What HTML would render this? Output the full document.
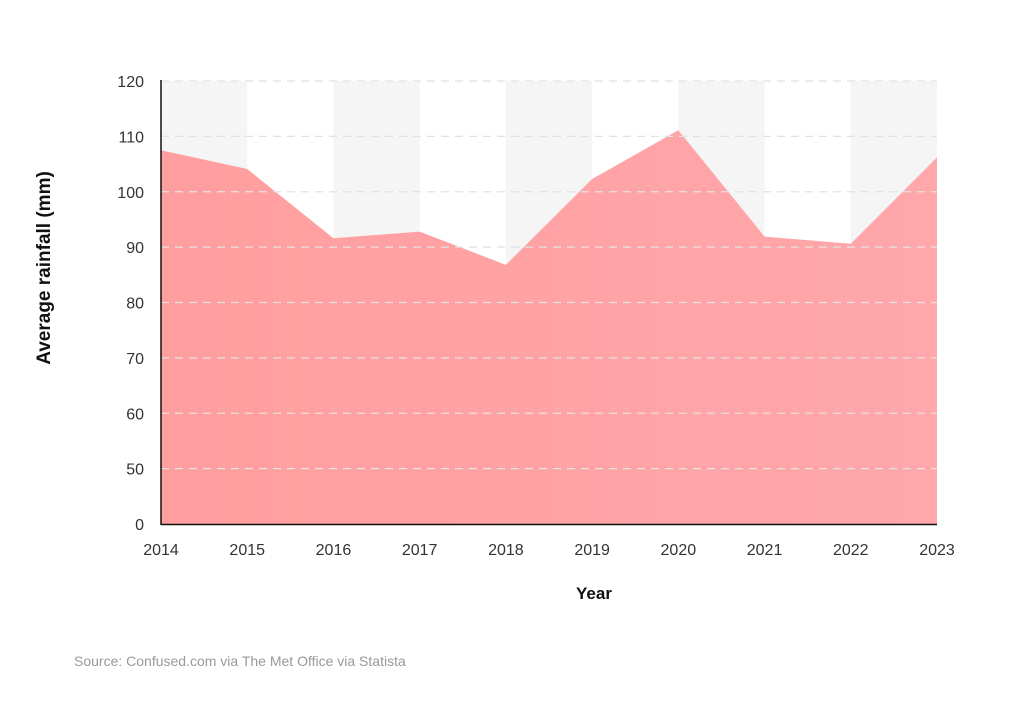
<!DOCTYPE html>
<html><head><meta charset="utf-8"><style>
body{margin:0;background:#fff;width:1016px;height:721px;overflow:hidden;font-family:"Liberation Sans",sans-serif}
</style></head><body>
<svg id="chart" width="1016" height="721" xmlns="http://www.w3.org/2000/svg">
<defs><linearGradient id="fillg" x1="0" x2="1" y1="0" y2="0"><stop offset="0" stop-color="#ff9e9f"/><stop offset="1" stop-color="#ffa7ab"/></linearGradient></defs>
<g id="bands"></g>
<path id="area" fill="url(#fillg)"/>
<g id="grid"></g>
<line x1="161" y1="80" x2="161" y2="525" stroke="#111" stroke-width="1.5"/>
<line x1="161" y1="524.5" x2="937" y2="524.5" stroke="#111" stroke-width="1.5"/>
<g id="yticks" font-size="16" fill="#333" text-anchor="end"></g>
<g id="xticks" font-size="16" fill="#333" text-anchor="middle"></g>
<text transform="translate(50,268) rotate(-90)" text-anchor="middle" font-size="19" font-weight="bold" fill="#111">Average rainfall (mm)</text>
<text x="594" y="599" text-anchor="middle" font-size="17" font-weight="bold" fill="#111">Year</text>
<text x="74" y="666" font-size="14" fill="#999">Source: Confused.com via The Met Office via Statista</text>
</svg>
<script>
const years = [2014,2015,2016,2017,2018,2019,2020,2021,2022,2023];
const rainfall = [107.5,104.1,91.6,92.8,86.8,102.3,111.1,91.9,90.6,106.2];
const yTicks = [0,50,60,70,80,90,100,110,120];
const NS='http://www.w3.org/2000/svg';
const x0=161,x1=937,yBase=524,yTop=81;
function xs(i){return x0+i*(x1-x0)/(years.length-1);}
function ys(v){ if(v<=0) return yBase; return yBase-(v-40)*(yBase-yTop)/80; }
function mk(t,a,p){const e=document.createElementNS(NS,t);for(const k in a)e.setAttribute(k,a[k]);p.appendChild(e);return e;}
const bands=document.getElementById('bands');
for(let i=0;i<years.length-1;i+=2){
  const r=mk('rect',{x:xs(i),y:yTop,width:xs(i+1)-xs(i),height:yBase-yTop,fill:'#f5f5f5'},bands);
  
  
}
let d='M'+xs(0)+','+yBase;
rainfall.forEach((v,i)=>{d+=' L'+xs(i)+','+ys(v);});
d+=' L'+xs(years.length-1)+','+yBase+' Z';
document.getElementById('area').setAttribute('d',d);
const grid=document.getElementById('grid'),yt=document.getElementById('yticks'),xt=document.getElementById('xticks');
yTicks.forEach(v=>{
  const y=ys(v);
  if(v>0){const l=mk('line',{x1:x0,x2:x1,y1:y,y2:y,stroke:'#e2e2e2','stroke-width':1.2,'stroke-dasharray':'8 6'},grid);
  
  }
  const t=mk('text',{x:144,y:y+6},yt);t.textContent=v;
  
  
});
years.forEach((yr,i)=>{
  const t=mk('text',{x:xs(i),y:555},xt);t.textContent=yr;
  
  
});
</script>
</body></html>
